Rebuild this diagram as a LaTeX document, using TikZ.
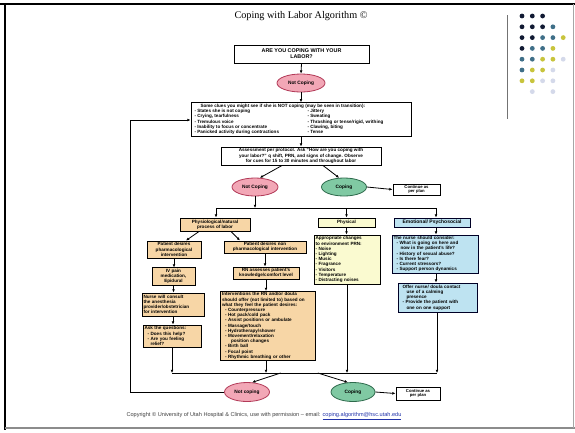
\documentclass[tikz,border=0pt]{standalone}
\usepackage{fontspec}
\setmainfont{Liberation Serif}
\setsansfont{Liberation Sans}
\usetikzlibrary{arrows.meta,shapes.geometric,calc}
\definecolor{pinkfill}{HTML}{F2A7B6}
\definecolor{pinkline}{HTML}{B23A58}
\definecolor{greenfill}{HTML}{80C9A3}
\definecolor{greenline}{HTML}{2E6A4C}
\definecolor{peach}{HTML}{F7D6A6}
\definecolor{paleyellow}{HTML}{FAFAD0}
\definecolor{paleblue}{HTML}{BEE3F1}
\definecolor{dotnavy}{HTML}{111A33}
\definecolor{dotteal}{HTML}{3F6F88}
\definecolor{dotyellow}{HTML}{C8C43C}
\definecolor{dotlilac}{HTML}{D4D9EA}
\definecolor{linkblue}{HTML}{2233AA}
\begin{document}
\begin{tikzpicture}[x=1pt,y=-1pt,
  font=\sffamily\bfseries\fontsize{4.6}{5.2}\selectfont,
  box/.style={draw=black,line width=1pt,fill=white,inner sep=1.2pt,align=left},
  cbox/.style={box,align=center},
  orange/.style={fill=peach},
  yellowish/.style={fill=paleyellow},
  bluish/.style={fill=paleblue,draw=black!85!blue},
  notcoping/.style={ellipse,draw=pinkline,line width=0.8pt,fill=pinkfill,inner sep=0pt,
    font=\sffamily\bfseries\fontsize{4.8}{5.4}\selectfont},
  coping/.style={ellipse,draw=greenline,line width=0.8pt,fill=greenfill,inner sep=0pt,
    font=\sffamily\bfseries\fontsize{4.8}{5.4}\selectfont},
  conn/.style={draw=black,line width=0.8pt},
  arr/.style={conn,-{Latex[length=3.2pt,width=2.8pt]}},
  dot/.style={circle,inner sep=0pt,minimum size=4.8pt}
]
\useasboundingbox (0,0) rectangle (575,432);
\fill[white] (0,0) rectangle (575,432);

% slide frame
\draw[line width=2.4pt] (0,4) -- (575,4);
\draw[line width=2.2pt] (5,4) -- (5,430);
\draw[black!45,line width=1.2pt] (5,428) -- (575,428);
\draw[black!35,line width=0.6pt] (573,4) -- (573,428);

% corner ornament: rule and dot matrix
\draw[black!55,line width=0.8pt] (507,15) -- (507,119);
\foreach \row/\cols in {
  16/{1/dotnavy,2/dotnavy,3/dotnavy},
  26.8/{1/dotnavy,2/dotnavy,3/dotnavy,4/dotteal},
  37.6/{1/dotnavy,2/dotnavy,3/dotteal,4/dotteal,5/dotyellow},
  48.4/{1/dotnavy,2/dotteal,3/dotteal,4/dotyellow},
  59.2/{1/dotteal,2/dotteal,3/dotyellow,4/dotyellow,5/dotlilac},
  70/{1/dotteal,2/dotyellow,3/dotyellow,4/dotlilac},
  80.8/{1/dotyellow,2/dotyellow,3/dotlilac,4/dotlilac},
  91.6/{2/dotlilac,4/dotlilac}}{
  \foreach \c/\col in \cols {
    \node[dot,fill=\col] (d-\row-\c) at ({511.7+10.3*\c},\row) {};
  }
}

% title
\node[font=\rmfamily\fontsize{10.2}{12}\selectfont] (title) at (301,16) {Coping with Labor Algorithm \textcopyright};

% top of the algorithm
\node[cbox,minimum width=135pt,minimum height=18pt,font=\sffamily\bfseries\fontsize{5.4}{6.2}\selectfont] (top) at (301.5,54)
  {ARE YOU COPING WITH YOUR\\LABOR?};
\node[notcoping,minimum width=48pt,minimum height=18pt] (nc1) at (301,83) {Not Coping};

\node[box,minimum width=220pt,minimum height=33pt] (clues) at (301,119.5) {%
\hspace*{6pt}Some clues you might see if she is NOT coping (may be seen in transition):\\[-0.2pt]
\begin{tabular}{@{}p{113pt}@{}p{100pt}@{}}
- States she is not coping & - Jittery\\
- Crying, tearfulness & - Sweating\\
- Tremulous voice & - Thrashing or tense/rigid, writhing\\
- Inability to focus or concentrate & - Clawing, biting\\
- Panicked activity during contractions & - Tense
\end{tabular}};

\node[cbox,minimum width=160pt,minimum height=18pt] (assess) at (301,156)
  {Assessment per protocol. Ask ``How are you coping with\\
   your labor?'' q shift, PRN, and signs of change. Observe\\
   for cues for 15 to 30 minutes and throughout labor};

\node[notcoping,minimum width=46pt,minimum height=18pt] (nc2) at (255,187) {Not Coping};
\node[coping,minimum width=45pt,minimum height=18pt] (cp2) at (344,187) {Coping};
\node[cbox,minimum width=47pt,minimum height=11pt,inner sep=0.6pt,font=\sffamily\bfseries\fontsize{4.2}{4.6}\selectfont] (cont1) at (416.5,189.5)
  {Continue as\\per plan};

% three kinds of intervention
\node[cbox,orange,minimum width=70pt,minimum height=13pt] (physio) at (215,224.5)
  {Physiological/natural\\process of labor};
\node[cbox,yellowish,minimum width=57pt,minimum height=9pt] (physical) at (346.5,222.5) {Physical};
\node[cbox,bluish,minimum width=76pt,minimum height=9pt,font=\sffamily\bfseries\fontsize{5}{5.6}\selectfont] (emo) at (432,222.5) {Emotional/ Psychosocial};

\coordinate (busAL) at (216,208);
\coordinate (busAR) at (436,208);

% pharmacological column
\node[cbox,orange,minimum width=54pt,minimum height=17pt] (ph1) at (174,249.5)
  {Patient desires\\pharmacological\\intervention};
\node[cbox,orange,minimum width=43pt,minimum height=17pt] (ph2) at (173.5,276.5)
  {IV pain\\medication,\\Epidural};
\node[box,orange,minimum width=62pt,minimum height=23pt,text width=59pt] (ph3) at (173,304.5)
  {Nurse will consult\\the anesthesia\\provider/obstetrician\\for intervention};
\node[box,orange,minimum width=58pt,minimum height=22pt,text width=55pt] (ph4) at (172,336)
  {Ask the questions:\\\hspace*{3pt}- Does this help?\\\hspace*{3pt}- Are you feeling\\\hspace*{6pt}relief?};

% non pharmacological column
\node[cbox,orange,minimum width=82pt,minimum height=12pt] (np1) at (265,247)
  {Patient desires non\\pharmacological intervention};
\node[cbox,orange,minimum width=66pt,minimum height=12pt] (np2) at (266,273)
  {RN assesses patient's\\knowledge/comfort level};
\node[box,orange,minimum width=95pt,minimum height=68pt,text width=91pt] (np3) at (267.5,326)
  {Interventions the RN and/or doula\\
   should offer (not limited to) based on\\
   what they feel the patient desires:\\
   \hspace*{3pt}- Counterpressure\\
   \hspace*{3pt}- Hot pack/cold pack\\
   \hspace*{3pt}- Assist positions or ambulate\\
   \hspace*{3pt}- Massage/touch\\
   \hspace*{3pt}- Hydrotherapy/shower\\
   \hspace*{3pt}- Movement/relaxation\\
   \hspace*{9pt}position changes\\
   \hspace*{3pt}- Birth ball\\
   \hspace*{3pt}- Focal point\\
   \hspace*{3pt}- Rhythmic breathing or other};

% physical column
\node[box,yellowish,minimum width=66pt,minimum height=49pt,text width=63pt] (phy2) at (347,259.5)
  {Appropriate changes\\to environment PRN:\\- Noise\\- Lighting\\- Music\\- Fragrance\\- Visitors\\- Temperature\\- Distracting noises};

% emotional column
\node[box,bluish,minimum width=86pt,minimum height=38pt,text width=83pt] (emo2) at (435,254)
  {The nurse should consider:\\
   \hspace*{3pt}- What is going on here and\\
   \hspace*{7pt}now in the patient's life?\\
   \hspace*{3pt}- History of sexual abuse?\\
   \hspace*{3pt}- Is there fear?\\
   \hspace*{3pt}- Current stressors?\\
   \hspace*{3pt}- Support person dynamics};
\node[box,bluish,minimum width=79pt,minimum height=29pt,text width=76pt] (emo3) at (437.5,297.5)
  {\hspace*{3pt}Offer nurse/ doula contact\\
   \hspace*{7pt}use of a calming\\
   \hspace*{7pt}presence\\
   \hspace*{3pt}- Provide the patient with\\
   \hspace*{7pt}one on one support};

\coordinate (busBL) at (172,373);
\coordinate (busBR) at (437,373);

% outcome after intervention
\node[notcoping,minimum width=45pt,minimum height=19pt] (nc3) at (247,392) {Not coping};
\node[coping,minimum width=44pt,minimum height=19pt] (cp3) at (353,392) {Coping};
\node[cbox,minimum width=44pt,minimum height=13pt,inner sep=0.6pt,font=\sffamily\bfseries\fontsize{4.2}{4.6}\selectfont] (cont2) at (418,393.5)
  {Continue as\\per plan};
\coordinate (fbTop) at (130,120);

% footer
\node[font=\sffamily\fontsize{5.6}{6.4}\selectfont,text=black!75] (foot) at (264,416)
  {Copyright \textcopyright\ University of Utah Hospital \& Clinics, use with permission -- email: \textcolor{linkblue}{\underline{coping.algorithm@hsc.utah.edu}}};

% connectors
\draw[arr] (top.south) -- (nc1.north);
\draw[arr] (nc1.south) -- (clues.north);
\draw[arr] (clues.south) -- (assess.north);
\draw[arr] ($(assess.south)+(-19,0)$) -- (nc2.62);
\draw[arr] ($(assess.south)+(22,0)$) -- (cp2.118);
\draw[arr] (cp2.east) -- (cont1.west);

\draw[conn] (busAL) -- (busAR);
\draw[arr] (nc2.south) -- (nc2.south |- busAL);
\draw[arr] (busAL) -- (busAL |- physio.north);
\draw[arr] (physical.north |- busAL) -- (physical.north);
\draw[arr] (busAR) -- (busAR |- emo.north);

\draw[arr] ($(physio.south)+(-16,0)$) -- ($(ph1.north)+(12,0)$);
\draw[arr] ($(physio.south)+(16,0)$) -- ($(np1.north)+(-25,0)$);
\draw[arr] (ph1.south) -- (ph1.south |- ph2.north);
\draw[arr] (ph2.south) -- (ph2.south |- ph3.north);
\draw[arr] (ph3.south) -- (ph3.south |- ph4.north);
\draw[arr] (np1.south) -- (np1.south |- np2.north);
\draw[arr] (np2.south) -- (np2.south |- np3.north);
\draw[arr] (physical.south) -- (physical.south |- phy2.north);
\draw[arr] (emo.south -| busAR) -- (busAR |- emo2.north);
\draw[arr] (emo2.south -| busAR) -- (busAR |- emo3.north);

\draw[conn] (busBL) -- (busBR);
\draw[arr] (ph4.south -| busBL) -- (busBL);
\draw[arr] (np3.south -| np2.south) -- (np2.south |- busBL);
\draw[arr] (phy2.south) -- (phy2.south |- busBL);
\draw[arr] (emo3.south -| busBR) -- (busBR);

\draw[arr] ($(busBL)!0.41!(busBR)$) -- (nc3.62);
\draw[arr] ($(busBL)!0.55!(busBR)$) -- (cp3.118);
\draw[arr] (cp3.east) -- (cont2.west);
\draw[arr] (nc3.west) -| (fbTop) -- (fbTop -| clues.west);
\end{tikzpicture}
\end{document}
